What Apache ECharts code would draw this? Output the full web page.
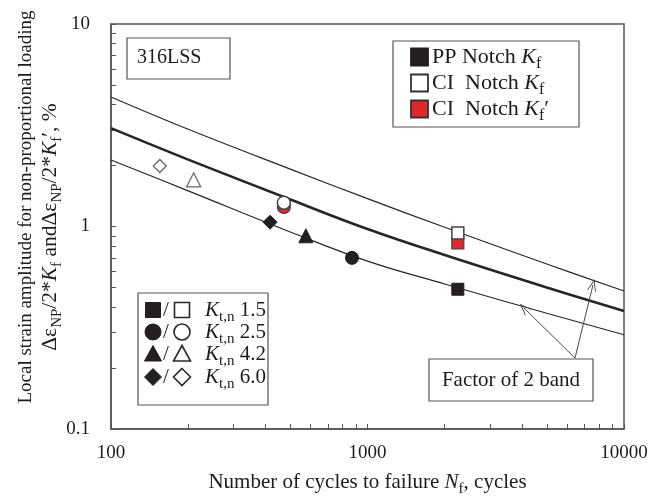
<!DOCTYPE html>
<html><head><meta charset="utf-8">
<script src="https://cdn.jsdelivr.net/npm/echarts@6/dist/echarts.min.js"></script>
<style>html,body{margin:0;padding:0;background:#fff}#c{width:650px;height:498px}</style>
</head><body><div id="c"></div>
<script>
// ---- data ----
const xMinorTicks = [100,200,300,400,500,600,700,800,900,1000,2000,3000,4000,5000,6000,7000,8000,9000,10000];
const yMinorTicks = [0.1,0.2,0.3,0.4,0.5,0.6,0.7,0.8,0.9,1,2,3,4,5,6,7,8,9,10];

const curveN     = [100, 200, 500, 1000, 2000, 5000, 10000];
const meanCurve  = [3.06, 2.14, 1.36, 0.972, 0.723, 0.500, 0.383];
const upperCurve = [4.36, 3.02, 1.92, 1.372, 0.992, 0.653, 0.480];
const lowerCurve = [2.13, 1.50, 0.940, 0.675, 0.520, 0.373, 0.292];

// PP notch Kf (filled)
const ppSquare   = [[2250, 0.49]];
const ppCircle   = [[870, 0.70]];
const ppTriangle = [[575, 0.90]];
const ppDiamond  = [[417, 1.05]];
// CI notch Kf (open)
const ciSquare   = [[2250, 0.93]];
const ciCircle   = [[472, 1.31]];
const ciTriangle = [[210, 1.70]];
const ciDiamond  = [[155, 1.99]];
// CI notch Kf' (red)
const ciPSquare  = [[2250, 0.83]];
const ciPCircle  = [[472, 1.25]];

// annotation arrows (data coordinates): tail -> tip
const arrowTail = [6442, 0.224];
const arrowTips = [[4074, 0.396], [7568, 0.514]];

// ---- styling ----
const FONT = '"Liberation Serif","Times New Roman",serif';
const TXT = '#1c1c1c';
const AX = '#555';
const BLACK = '#231f20';
const RED = '#e3262b';

function rich(fs) {
  return {
    i: {fontFamily: FONT, fontSize: fs, fontStyle: 'italic', fill: TXT, color: TXT, lineHeight: fs + 8},
    s: {fontFamily: FONT, fontSize: Math.round(fs * 0.72), fill: TXT, color: TXT, verticalAlign: 'bottom', lineHeight: Math.round(fs * 0.8)}
  };
}
function gtext(x, y, text, fs, opts) {
  return Object.assign({
    type: 'text', x: x, y: y, z: 10,
    style: {text: text, fontFamily: FONT, fontSize: fs, fill: TXT, lineHeight: fs + 8,
            align: 'left', verticalAlign: 'middle', rich: rich(fs)}
  }, opts || {});
}
function grect(x, y, w, h, fill, stroke, lw) {
  return {type: 'rect', z: 9, shape: {x: x, y: y, width: w, height: h},
          style: {fill: fill, stroke: stroke, lineWidth: lw}};
}

const chart = echarts.init(document.getElementById('c'), null, {renderer: 'canvas'});

function lineSeries(vals, width, extra) {
  return Object.assign({
    type: 'line', data: curveN.map((n, i) => [n, vals[i]]), smooth: 0.4,
    showSymbol: false, silent: true, z: 2,
    lineStyle: {color: '#262626', width: width}
  }, extra || {});
}
function scatter(data, symbol, size, fill, stroke, bw, z) {
  return {type: 'scatter', data: data, symbol: symbol, symbolSize: size, z: z,
          itemStyle: {color: fill, borderColor: stroke, borderWidth: bw, opacity: 1}};
}

const arrowSym = 'path://M0,10 L5,0 L10,10 L9,10 L5,2.2 L1,10 Z';
const numFmt = v => String(+Number(v).toPrecision(6));

const graphic = [];
// 316LSS box
graphic.push(grect(127, 38, 103, 41, '#fff', AX, 1.2));
graphic.push(gtext(137, 58, '316LSS', 20));
// top-right legend
graphic.push(grect(393, 41, 186, 86, '#fff', AX, 1.2));
const trRows = [
  {y: 57, fill: BLACK, stroke: BLACK, text: 'PP Notch {i|K}{s|f}'},
  {y: 83, fill: '#fff', stroke: '#333', text: 'CI  Notch {i|K}{s|f}'},
  {y: 109, fill: RED, stroke: '#333', text: 'CI  Notch {i|K}{s|f}\u2032'}
];
trRows.forEach(r => {
  graphic.push(grect(411, r.y - 8.5, 17, 17, r.fill, r.stroke, 1.8));
  graphic.push(gtext(432, r.y, r.text, 22));
});
// bottom-left legend
graphic.push(grect(138, 293, 130, 112, '#fff', AX, 1.2));
const blRows = [{y: 310, v: '1.5', s: 'sq'}, {y: 332, v: '2.5', s: 'ci'}, {y: 354, v: '4.2', s: 'tr'}, {y: 377, v: '6.0', s: 'di'}];
function legShape(kind, cx, cy, filled) {
  const st = filled ? {fill: BLACK, stroke: BLACK, lineWidth: 1} : {fill: '#fff', stroke: '#2a2a2a', lineWidth: 1.6};
  if (kind === 'sq') return {type: 'rect', z: 10, shape: {x: cx - 7.5, y: cy - 7.5, width: 15, height: 15}, style: st};
  if (kind === 'ci') return {type: 'circle', z: 10, shape: {cx: cx, cy: cy, r: 8}, style: st};
  if (kind === 'tr') return {type: 'polygon', z: 10, shape: {points: [[cx, cy - 8.5], [cx + 8.5, cy + 7], [cx - 8.5, cy + 7]]}, style: st};
  return {type: 'polygon', z: 10, shape: {points: [[cx, cy - 8.5], [cx + 8.5, cy], [cx, cy + 8.5], [cx - 8.5, cy]]}, style: st};
}
blRows.forEach(r => {
  graphic.push(legShape(r.s, 153, r.y, true));
  graphic.push(gtext(163, r.y, '/', 21));
  graphic.push(legShape(r.s, 182, r.y, false));
  graphic.push(gtext(205, r.y, '{i|K}{s|t,n} ' + r.v, 21));
});
// factor of 2 band box
graphic.push(grect(429, 359, 164, 42, '#fff', AX, 1.2));
graphic.push({type: 'text', x: 511, y: 380, z: 10,
  style: {text: 'Factor of 2 band', fontFamily: FONT, fontSize: 21, fill: TXT, align: 'center', verticalAlign: 'middle'}});
// y axis title (two lines)
graphic.push({type: 'text', x: 26, y: 207, rotation: Math.PI / 2, z: 10,
  style: {text: 'Local strain amplitude for non-proportional loading', fontFamily: FONT, fontSize: 19, fill: TXT, align: 'center', verticalAlign: 'middle'}});
graphic.push({
  type: 'text', x: 50, y: 227, rotation: Math.PI / 2, z: 10,
  style: {text: '\u0394\u03b5{s|NP}/2*{i|K}{s|f} and\u0394\u03b5{s|NP}/2*{i|K}{s|f}\u2032, %',
          fontFamily: FONT, fontSize: 21.5, fill: TXT, lineHeight: 29, align: 'center', verticalAlign: 'middle', rich: rich(21.5)}
});

const option = {
  animation: false,
  backgroundColor: '#fff',
  grid: {left: 111, right: 26, top: 24, bottom: 69, outerBoundsMode: 'none', containLabel: false,
         show: true, borderColor: AX, borderWidth: 1.5, backgroundColor: 'transparent'},
  xAxis: {
    type: 'log', logBase: 10, min: 100, max: 10000,
    axisLine: {show: true, onZero: false, lineStyle: {color: AX, width: 1.5}},
    axisTick: {show: true, inside: true, length: 5, customValues: xMinorTicks, lineStyle: {color: AX, width: 1}},
    axisLabel: {fontFamily: FONT, fontSize: 19, color: TXT, margin: 15, formatter: numFmt},
    splitLine: {show: false},
    name: 'Number of cycles to failure {i|N}{s|f}, cycles',
    nameLocation: 'middle', nameGap: 39,
    nameTextStyle: {fontFamily: FONT, fontSize: 21, color: TXT, lineHeight: 29, rich: rich(21)}
  },
  yAxis: {
    type: 'log', logBase: 10, min: 0.1, max: 10,
    axisLine: {show: true, onZero: false, lineStyle: {color: AX, width: 1.5}},
    axisTick: {show: true, inside: true, length: 5, customValues: yMinorTicks, lineStyle: {color: AX, width: 1}},
    axisLabel: {fontFamily: FONT, fontSize: 19, color: TXT, margin: 21, formatter: numFmt},
    splitLine: {show: false}
  },
  graphic: graphic,
  series: [
    lineSeries(upperCurve, 1.2),
    lineSeries(lowerCurve, 1.2, {
      markLine: {
        silent: true, animation: false, symbol: ['none', arrowSym], symbolSize: [9, 12],
        lineStyle: {color: '#4a4a4a', width: 1, type: 'solid'}, label: {show: false},
        data: arrowTips.map(t => [{coord: arrowTail}, {coord: t}])
      }
    }),
    lineSeries(meanCurve, 2.6, {z: 3}),
    scatter(ciPCircle, 'circle', 13, RED, '#444', 1.2, 4),
    scatter(ciPSquare, 'rect', 12, RED, '#444', 1.2, 4),
    scatter(ciCircle, 'circle', 13, '#fff', '#444', 1.5, 5),
    scatter(ciSquare, 'rect', 12, '#fff', '#444', 1.5, 5),
    scatter(ciTriangle, 'triangle', 14, '#fff', '#666', 1.3, 5),
    scatter(ciDiamond, 'diamond', 13, '#fff', '#666', 1.3, 5),
    scatter(ppSquare, 'rect', 12, BLACK, BLACK, 1, 6),
    scatter(ppCircle, 'circle', 13, BLACK, BLACK, 1, 6),
    scatter(ppTriangle, 'triangle', 14, BLACK, BLACK, 1, 6),
    scatter(ppDiamond, 'diamond', 14, BLACK, BLACK, 1, 6)
  ]
};
chart.setOption(option);
</script>
</body></html>
